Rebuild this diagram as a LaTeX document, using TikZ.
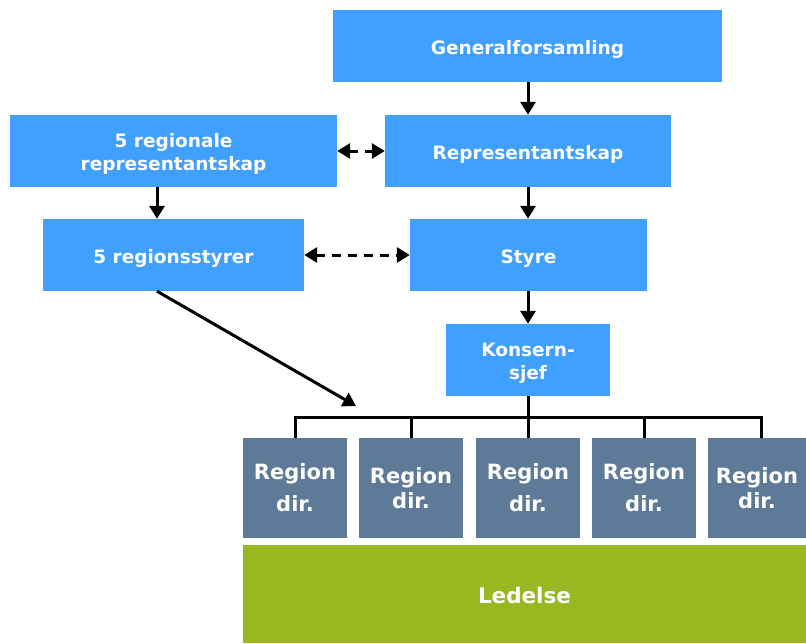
\documentclass[tikz,border=0pt]{standalone}
\usepackage{fontspec}
\setmainfont{DejaVu Sans}
\usetikzlibrary{arrows.meta}
\definecolor{boxblue}{RGB}{64,160,255}
\definecolor{boxslate}{RGB}{94,122,153}
\definecolor{boxgreen}{RGB}{153,183,32}
\newcommand{\topstrut}{\rule{0pt}{20pt}}
\begin{document}
\begin{tikzpicture}[x=1pt,y=-1pt,
  bbox/.style={fill=boxblue,draw=none,text=white,font=\bfseries\fontsize{18.5}{23}\selectfont,align=center,inner sep=0pt},
  rbox/.style={fill=boxslate,draw=none,text=white,font=\bfseries\fontsize{21}{32}\selectfont,align=center,inner sep=0pt,minimum width=104pt,minimum height=100pt},
  arr/.style={line width=3pt,-{Triangle[length=13pt,width=15pt]}},
  darr/.style={line width=3pt,dash pattern=on 9pt off 7pt,{Triangle[length=13pt,width=15pt]}-{Triangle[length=13pt,width=15pt]}},
  tline/.style={line width=3pt}]
\useasboundingbox (0,0) rectangle (806,643);
\node[bbox,minimum width=389pt,minimum height=72pt] (gen) at (527.5,46) {\topstrut Generalforsamling};
\node[bbox,minimum width=327pt,minimum height=72pt] (rrep) at (173.5,151) {\topstrut 5 regionale\\representantskap};
\node[bbox,minimum width=286pt,minimum height=72pt] (rep) at (528,151) {\topstrut Representantskap};
\node[bbox,minimum width=261pt,minimum height=72pt] (rsty) at (173.5,255) {\topstrut 5 regionsstyrer};
\node[bbox,minimum width=237pt,minimum height=72pt] (sty) at (528.5,255) {\topstrut Styre};
\node[bbox,minimum width=164pt,minimum height=72pt] (kon) at (528,360) {\topstrut Konsern-\\sjef};
\node[rbox] (r1) at (295,488) {Region\\dir.};
\node[rbox,font=\bfseries\fontsize{21}{25}\selectfont] (r2) at (411,488) {Region\\dir.};
\node[rbox] (r3) at (528,488) {Region\\dir.};
\node[rbox] (r4) at (644,488) {Region\\dir.};
\node[rbox,minimum width=98pt,font=\bfseries\fontsize{21}{25}\selectfont] (r5) at (757,488) {Region\\dir.};
\node[fill=boxgreen,minimum width=563pt,minimum height=98pt,inner sep=0pt,text=white,font=\bfseries\fontsize{21.5}{24}\selectfont] (led) at (524.5,594) {\rule{0pt}{20pt}Ledelse};
\draw[arr] (gen.south -| rep.north) -- (rep.north);
\draw[arr] (rep.south) -- (rep.south |- sty.north);
\draw[arr] (rep.south |- sty.south) -- (kon.north);
\draw[arr] (rrep.south -| 157,0) -- (rsty.north -| 157,0);
\draw[darr] (rrep.east) -- (rep.west);
\draw[darr] (rsty.east) -- (sty.west);
\coordinate (diagend) at (356,406);
\draw[arr] (rsty.south -| 157,0) -- (diagend);
\coordinate (bus) at (528,417);
\draw[tline] (kon.south) -- (bus);
\draw[tline] (r1.north) |- (bus) -| (r5.north -| 761,0);
\draw[tline] (r2.north) -- (r2.north |- bus);
\draw[tline] (r3.north) -- (r3.north |- bus);
\draw[tline] (r4.north) -- (r4.north |- bus);
\end{tikzpicture}
\end{document}
